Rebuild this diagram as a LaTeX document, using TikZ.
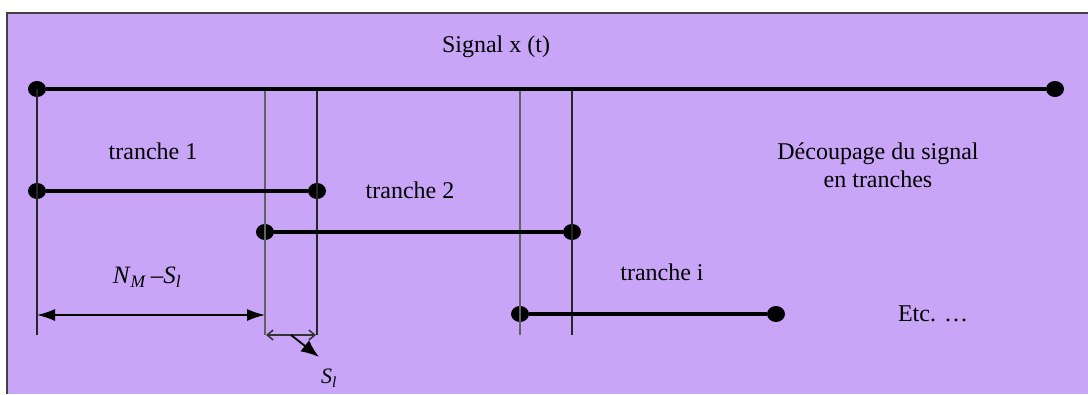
\documentclass[tikz,border=0pt]{standalone}
\usepackage{fontspec}
\setmainfont{Liberation Serif}
\usetikzlibrary{arrows.meta,shapes.geometric}
\definecolor{bgpurple}{HTML}{C9A5F8}
\definecolor{frame}{HTML}{404040}
\tikzset{
  dot/.style={ellipse,fill=black,draw=none,minimum width=18pt,minimum height=16pt,inner sep=0pt},
  sig/.style={line width=4.5pt},
  guide/.style={line width=1.8pt,draw=black!85},
  guidegray/.style={line width=2.2pt,draw=black!62},
  lbl/.style={font=\fontsize{24}{28}\selectfont,inner sep=0pt},
  dim/.style={line width=1.5pt,{Latex[length=18pt,width=12pt]}-{Latex[length=18pt,width=12pt]}},
  smalldim/.style={line width=1.5pt,draw=black!80,{Straight Barb[length=6pt,width=10pt]}-{Straight Barb[length=6pt,width=10pt]}},
  pointer/.style={line width=1.8pt,-{Latex[length=18pt,width=14pt]}}
}
\begin{document}
\begin{tikzpicture}[x=1pt,y=-1pt]
\useasboundingbox (0,0) rectangle (1088,394);
% background panel
\fill[bgpurple] (7,13) rectangle (1088,394);
\draw[frame,line width=1.3pt] (7,394) -- (7,13) -- (1088,13);

% end points of the signal and of the slices
\node[dot] (s0) at (37,89) {};
\node[dot] (s1) at (1055,89) {};
\node[dot] (a0) at (37,191) {};
\node[dot] (a1) at (317,191) {};
\node[dot] (b0) at (265,232) {};
\node[dot] (b1) at (572,232) {};
\node[dot] (c0) at (520,314) {};
\node[dot] (c1) at (776,314) {};

% feet of the vertical guides
\coordinate (g0) at (37,335);
\coordinate (g1t) at (265,89);  \coordinate (g1) at (265,335);
\coordinate (g2t) at (317,89);  \coordinate (g2) at (317,335);
\coordinate (g3t) at (520,89);  \coordinate (g3) at (520,335);
\coordinate (g4t) at (572,89);  \coordinate (g4) at (572,335);

% vertical guides
\draw[guide] (s0.center) -- (g0);
\draw[guidegray] (g1t) -- (g1);
\draw[guide] (g2t) -- (g2);
\draw[guidegray] (g3t) -- (g3);
\draw[guide] (g4t) -- (g4);

% signal and slices
\draw[sig] (s0) -- (s1);
\draw[sig] (a0) -- (a1);
\draw[sig] (b0) -- (b1);
\draw[sig] (c0) -- (c1);

% dimensions
\coordinate (d0) at (37,315);
\coordinate (d1) at (265,315);
\draw[dim] (d0) -- (d1);
\coordinate (e0) at (266,335);
\coordinate (e1) at (316,335);
\draw[smalldim] (e0) -- (e1);
\coordinate (p0) at (291,335);
\coordinate (p1) at (319,357);
\draw[pointer] (p0) -- (p1);

% labels
\node[lbl] (title) at (496,47) {Signal x (t)};
\node[lbl] (t1) at (153,151) {tranche 1};
\node[lbl] (t2) at (410,190) {tranche 2};
\node[lbl] (ti) at (662,272) {tranche i};
\node[lbl,align=center] (dec) at (878,165) {Découpage du signal\\en tranches};
\node[lbl] (etc) at (933,314) {Etc. \dots};
\node[lbl,font=\fontsize{25}{28}\selectfont] (nm) at (147,277)
  {\textit{N}\textsubscript{\textit{M}}\,\textendash\textit{S}\textsubscript{\textit{l}}};
\node[lbl,font=\fontsize{22}{26}\selectfont] (sl) at (329,378) {\textit{S}\textsubscript{\textit{l}}};
\end{tikzpicture}
\end{document}
